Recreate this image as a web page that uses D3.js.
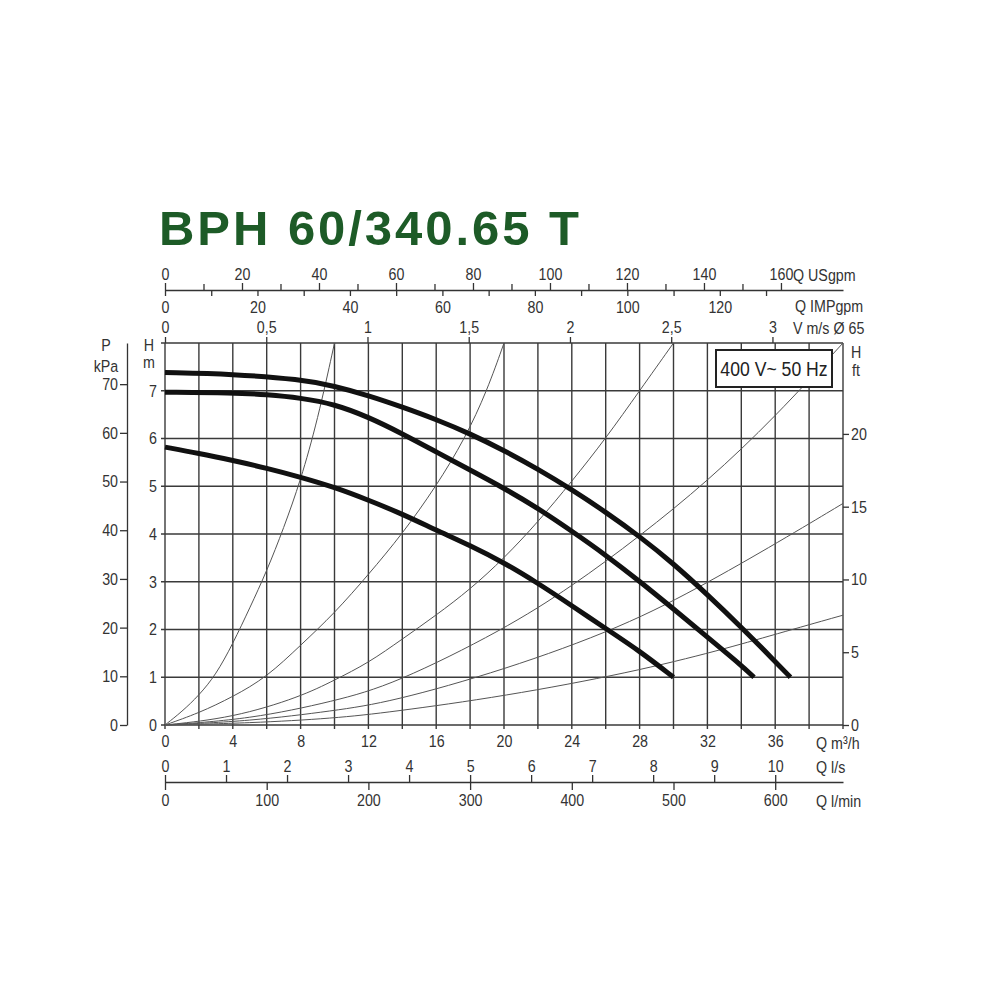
<!DOCTYPE html>
<html>
<head>
<meta charset="utf-8">
<script src="https://cdn.jsdelivr.net/npm/d3@7"></script>
<style>
  html, body { margin: 0; padding: 0; background: #fff; }
  svg { display: block; }
</style>
</head>
<body>
<svg id="chart" width="1000" height="1000"></svg>
<script>

var titleText = 'BPH 60/340.65 T';
var boxText = '400 V~ 50 Hz';

// tick values of every scale
var qTicksM3h = [0, 4, 8, 12, 16, 20, 24, 28, 32, 36];
var hTicksM = [0, 1, 2, 3, 4, 5, 6, 7];
var pTicksKpa = [0, 10, 20, 30, 40, 50, 60, 70];
var hTicksFt = [0, 5, 10, 15, 20];
var usgpmLabels = [0, 20, 40, 60, 80, 100, 120, 140, 160];
var usgpmMinor = [10, 30, 50, 70, 90, 110, 130, 150];
var impgpmLabels = [0, 20, 40, 60, 80, 100, 120];
var impgpmMinor = [10, 30, 50, 70, 90, 110, 130];
var velLabels = [0, 0.5, 1, 1.5, 2, 2.5, 3];
var lsLabels = [0, 1, 2, 3, 4, 5, 6, 7, 8, 9, 10];
var lminLabels = [0, 100, 200, 300, 400, 500, 600];

// pump curves [Q m3/h, H m]
var pumpTop = [[0,7.38],[4,7.35],[8,7.24],[10,7.1],[12,6.9],[14,6.66],[16,6.4],[18,6.1],[20,5.75],
  [22,5.36],[24,4.93],[26,4.46],[28,3.95],[30,3.38],[32,2.73],[34,2.05],[36,1.33],[36.9,1.0]];
var pumpMid = [[0,6.97],[4,6.96],[6,6.92],[8,6.85],[10,6.72],[12,6.45],[14,6.1],[16,5.72],[18,5.34],[20,4.96],
  [22,4.54],[24,4.06],[26,3.56],[28,3.01],[30,2.43],[32,1.84],[34,1.25],[34.75,1.0]];
var pumpLow = [[0,5.82],[2,5.69],[4,5.54],[6,5.38],[8,5.19],[10,4.98],[12,4.71],[14,4.42],[16,4.08],
  [18,3.76],[20,3.4],[22,2.97],[24,2.5],[26,2.02],[28,1.55],[30,1.0]];

// thin system curves from the origin
var sysA = [[0,0],[1,0.28],[2,0.62],[3,1.05],[4,1.7],[5,2.45],[6,3.22],[7,4.12],[8,5.12],[9,6.38],[10,8]];
var sysB = [[0,0],[2,0.25],[4,0.59],[6,1.0],[8,1.67],[10,2.34],[12,3.15],[14,4.0],[16,5.0],[17.7,6.0],[19,7.0],[20,8]];
var sysC = [[0,0],[4,0.15],[8,0.59],[10,0.94],[12,1.3],[14,1.8],[16,2.3],[18,2.84],[20,3.49],[22,4.25],[24,5.1],[26,6.0],[28,7.0],[30,8.0]];
var sysD = [[0,0],[5,0.12],[10,0.5],[13.5,0.85],[20,2.0],[24,2.9],[28,3.95],[32,5.1],[36,6.45],[40,8]];
var sysE = [[0,0],[5,0.08],[10,0.3],[13.3,0.48],[20,1.15],[27,2.05],[32,2.97],[37,4.0],[40,4.64]];
var sysF = [[0,0],[5,0.04],[10,0.14],[13.3,0.27],[20,0.6],[27.5,1.1],[32.8,1.57],[36,1.9],[40,2.3]];
var systemCurves = [sysA, sysB, sysC, sysD, sysE, sysF];
var pumpCurves = [pumpTop, pumpMid, pumpLow];

var plot = {left: 165, right: 843, top: 343, bottom: 725};
var qMax = 40, hMax = 8;
var axisFont = '"Liberation Sans", Arial, sans-serif';
var narrow = 0.84; // the chart uses a condensed face, squeeze the text
var ink = '#333';
var gridColor = '#3a3a3a';

var svg = d3.select('#chart');

// main scales
var x = d3.scaleLinear().domain([0, qMax]).range([plot.left, plot.right]);
var y = d3.scaleLinear().domain([0, hMax]).range([plot.bottom, plot.top]);

// unit conversions of the same axes
var pipeArea = Math.PI * 0.065 * 0.065 / 4;
var yKpa = d3.scaleLinear().domain([0, hMax * 9.80665]).range([plot.bottom, plot.top]);
var yFt = d3.scaleLinear().domain([0, hMax / 0.3048]).range([plot.bottom, plot.top]);
var xUs = d3.scaleLinear().domain([0, qMax * 4.40287]).range([plot.left, plot.right]);
var xImp = d3.scaleLinear().domain([0, qMax * 3.66615]).range([plot.left, plot.right]);
var xVel = d3.scaleLinear().domain([0, qMax / 3600 / pipeArea]).range([plot.left, plot.right]);
var xLs = d3.scaleLinear().domain([0, qMax / 3.6]).range([plot.left, plot.right]);
var xLmin = d3.scaleLinear().domain([0, qMax / 0.06]).range([plot.left, plot.right]);

var comma = function(d) { return String(d).replace('.', ','); };

// title
svg.append('text')
  .attr('x', 159)
  .attr('y', 245)
  .attr('font-family', '"Liberation Sans", Arial, sans-serif')
  .attr('font-weight', 'bold')
  .attr('font-size', 49)
  .attr('fill', '#1d5b27')
  .attr('textLength', 420)
  .attr('lengthAdjust', 'spacing')
  .text(titleText);

// grid
var grid = svg.append('g').attr('stroke', gridColor).attr('stroke-width', 1.4);
grid.selectAll('line.v')
  .data(d3.range(0, qMax + 1, 2))
  .enter().append('line')
  .attr('class', 'v')
  .attr('x1', d => x(d)).attr('x2', d => x(d))
  .attr('y1', plot.top).attr('y2', plot.bottom + 4);
grid.selectAll('line.h')
  .data(d3.range(0, hMax + 1, 1))
  .enter().append('line')
  .attr('class', 'h')
  .attr('x1', plot.left - 4).attr('x2', plot.right)
  .attr('y1', d => y(d)).attr('y2', d => y(d));

var line = d3.line()
  .x(d => x(d[0]))
  .y(d => y(d[1]))
  .curve(d3.curveBasis);

svg.append('g').selectAll('path')
  .data(systemCurves)
  .enter().append('path')
  .attr('d', line)
  .attr('fill', 'none')
  .attr('stroke', '#555')
  .attr('stroke-width', 1);

svg.append('g').selectAll('path')
  .data(pumpCurves)
  .enter().append('path')
  .attr('d', line)
  .attr('fill', 'none')
  .attr('stroke', '#111')
  .attr('stroke-width', 5);

// voltage box
svg.append('rect')
  .attr('x', 716).attr('y', 350)
  .attr('width', 116).attr('height', 37)
  .attr('fill', '#fff')
  .attr('stroke', '#222')
  .attr('stroke-width', 2);
svg.append('text')
  .attr('transform', 'translate(774,376) scale(' + narrow + ',1)')
  .attr('text-anchor', 'middle')
  .attr('font-family', axisFont)
  .attr('font-size', 21)
  .attr('fill', '#222')
  .text(boxText);

// axis helper: style every axis the same way
var styleAxis = function(g) {
  g.attr('font-family', axisFont).attr('font-size', 17);
  g.selectAll('path.domain').attr('stroke', ink).attr('stroke-width', 1.3);
  g.selectAll('.tick line').attr('stroke', ink).attr('stroke-width', 1.3);
  g.selectAll('.tick text')
    .attr('fill', ink)
    .attr('transform', 'scale(' + narrow + ',1)')
    .attr('x', function() {
      var v = this.getAttribute('x');
      return v === null ? null : +v / narrow;
    });
  return g;
};

var addAxis = function(axis, tx, ty, keepDomain) {
  var g = svg.append('g')
    .attr('transform', 'translate(' + tx + ',' + ty + ')')
    .call(axis);
  styleAxis(g);
  if (!keepDomain) g.select('path.domain').remove();
  return g;
};

// top: USgpm above and IMPgpm below one line
var usY = 290;
addAxis(d3.axisTop(xUs).tickValues(usgpmLabels).tickSize(7).tickSizeOuter(0).tickPadding(3), 0, usY, true);
addAxis(d3.axisTop(xUs).tickValues(usgpmMinor).tickSize(6).tickFormat(''), 0, usY);
addAxis(d3.axisBottom(xImp).tickValues(impgpmLabels).tickSize(6).tickPadding(5), 0, usY);
addAxis(d3.axisBottom(xImp).tickValues(impgpmMinor).tickSize(6).tickFormat(''), 0, usY);

// velocity on the plot top
addAxis(d3.axisTop(xVel).tickValues(velLabels).tickSize(6).tickPadding(4).tickFormat(comma), 0, plot.top);

// bottom: Q m3/h on the plot bottom
addAxis(d3.axisBottom(x).tickValues(qTicksM3h).tickSize(0).tickPadding(10), 0, plot.bottom);

// bottom: l/s above and l/min below one line
var lsY = 782;
addAxis(d3.axisTop(xLs).tickValues(lsLabels).tickSize(7).tickSizeOuter(0).tickPadding(3), 0, lsY, true);
addAxis(d3.axisBottom(xLmin).tickValues(lminLabels).tickSize(8).tickPadding(4), 0, lsY);

// left: P kPa and H m
addAxis(d3.axisLeft(yKpa).tickValues(pTicksKpa).tickSize(7).tickSizeOuter(0).tickPadding(2), 127, 0, true);
addAxis(d3.axisLeft(y).tickValues(hTicksM).tickSize(0).tickPadding(8), plot.left, 0);

// right: H ft
addAxis(d3.axisRight(yFt).tickValues(hTicksFt).tickSize(6).tickPadding(2), plot.right, 0);

// unit labels
var unitLabels = [
  {t: 'Q USgpm', x: 793, y: 281, a: 'start'},
  {t: 'Q IMPgpm', x: 795, y: 312, a: 'start'},
  {t: 'V m/s \u00d8 65', x: 793, y: 334, a: 'start'},
  {t: 'Q m\u00b3/h', x: 816, y: 749, a: 'start'},
  {t: 'Q l/s', x: 816, y: 773, a: 'start'},
  {t: 'Q l/min', x: 816, y: 807, a: 'start'},
  {t: 'P', x: 106, y: 351, a: 'middle'},
  {t: 'kPa', x: 106, y: 372, a: 'middle'},
  {t: 'H', x: 149, y: 351, a: 'middle'},
  {t: 'm', x: 149, y: 368, a: 'middle'},
  {t: 'H', x: 851, y: 358, a: 'start'},
  {t: 'ft', x: 852, y: 376, a: 'start'}
];
svg.append('g').selectAll('text')
  .data(unitLabels)
  .enter().append('text')
  .attr('transform', d => 'translate(' + d.x + ',' + d.y + ') scale(' + narrow + ',1)')
  .attr('text-anchor', d => d.a)
  .attr('font-family', axisFont)
  .attr('font-size', 17)
  .attr('fill', ink)
  .text(d => d.t);

</script>
</body>
</html>
